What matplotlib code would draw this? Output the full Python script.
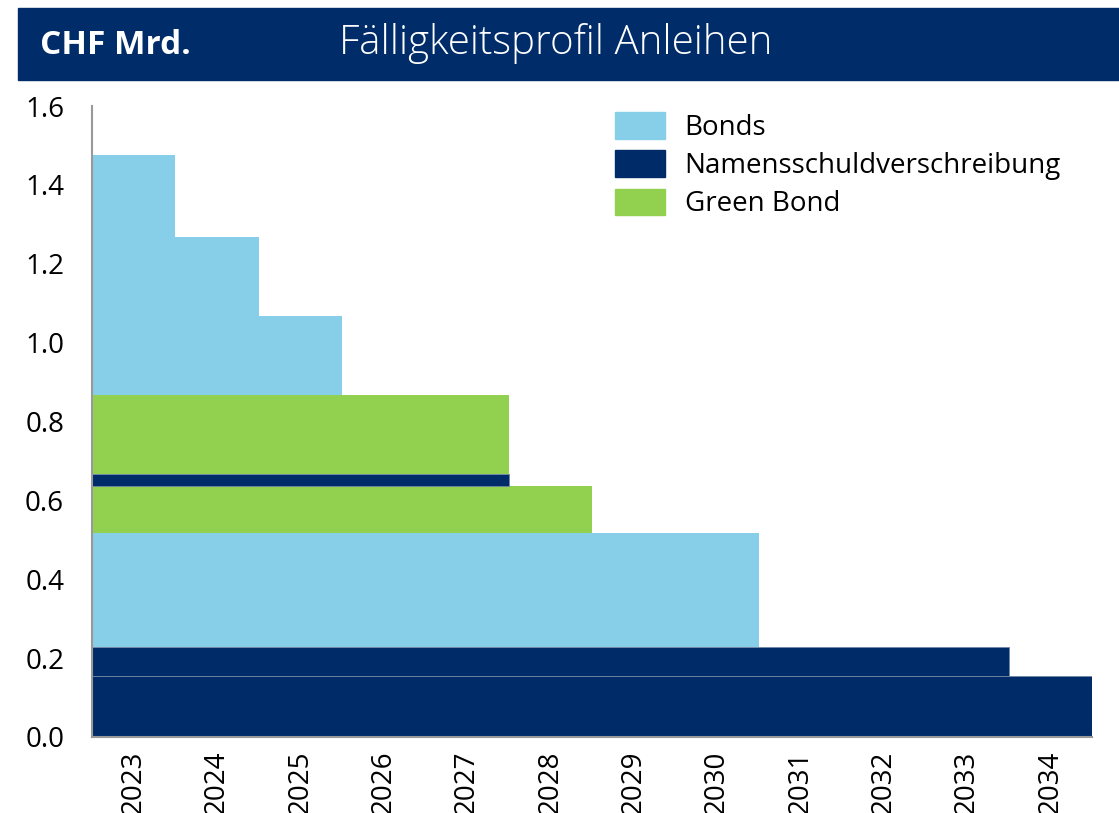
import matplotlib.pyplot as plt
from matplotlib.patches import Patch, Rectangle

FONT = ["Open Sans", "DejaVu Sans"]
plt.rcParams["font.family"] = FONT

YEARS = list(range(2023, 2035))

# layers from bottom to top: maturity year, amount (CHF bn), type
MATURITY = [2034, 2033, 2030, 2028, 2027, 2027, 2025, 2024, 2023]
AMOUNT = [0.155, 0.073, 0.29, 0.118, 0.031, 0.20, 0.20, 0.201, 0.208]
KIND = ["nsv", "nsv", "bond", "green", "nsv", "green", "bond", "bond", "bond"]

COLORS = {"bond": "#87CEE8", "nsv": "#002B69", "green": "#92D150"}
LABELS = {"bond": "Bonds", "nsv": "Namensschuldverschreibung", "green": "Green Bond"}
HEADER = "#002D6A"

fig = plt.figure(figsize=(11.19, 8.13), dpi=100)
ax = fig.add_axes([0.0822, 0.0935, 0.8938, 0.7761])

bottom = 0.0
for mat, amt, kind in zip(MATURITY, AMOUNT, KIND):
    n = YEARS.index(mat) + 1
    ax.barh(bottom, n, left=-0.5, height=amt, align="edge",
            color=COLORS[kind],
            edgecolor="#6f86a8" if kind == "nsv" else "none",
            linewidth=0.6)
    bottom += amt

ax.set_xlim(-0.5, len(YEARS) - 0.5)
ax.set_ylim(0, 1.6)
ax.set_xticks(range(len(YEARS)))
ax.set_xticklabels([str(y) for y in YEARS], rotation=90, fontsize=20)
ax.set_yticks([i * 0.2 for i in range(9)])
ax.set_yticklabels([f"{i * 0.2:.1f}" for i in range(9)], fontsize=20)
ax.tick_params(axis="both", length=0)
ax.tick_params(axis="y", pad=20)
ax.tick_params(axis="x", pad=10)

for s in ["top", "right"]:
    ax.spines[s].set_visible(False)
for s in ["left", "bottom"]:
    ax.spines[s].set_color("#999999")
    ax.spines[s].set_linewidth(1.5)

handles = [Patch(color=COLORS[k]) for k in ["bond", "nsv", "green"]]
ax.legend(handles, [LABELS[k] for k in ["bond", "nsv", "green"]],
          loc="upper left", bbox_to_anchor=(0.523, 0.99), frameon=False,
          fontsize=20, handlelength=1.8, handleheight=1.1,
          handletextpad=0.7, labelspacing=0.3, borderaxespad=0,
          borderpad=0)

# header band
fig.patches.append(Rectangle((0.016, 0.9016), 0.984, 0.0885,
                             transform=fig.transFigure, color=HEADER, zorder=0))
fig.text(0.036, 0.944, "CHF Mrd.", color="white", fontsize=24,
         fontweight="bold", va="center", ha="left")
fig.text(0.303, 0.946, "Fälligkeitsprofil Anleihen", color="white",
         fontsize=29, fontweight="light", va="center", ha="left")

fig.savefig("out.png", dpi=100)
